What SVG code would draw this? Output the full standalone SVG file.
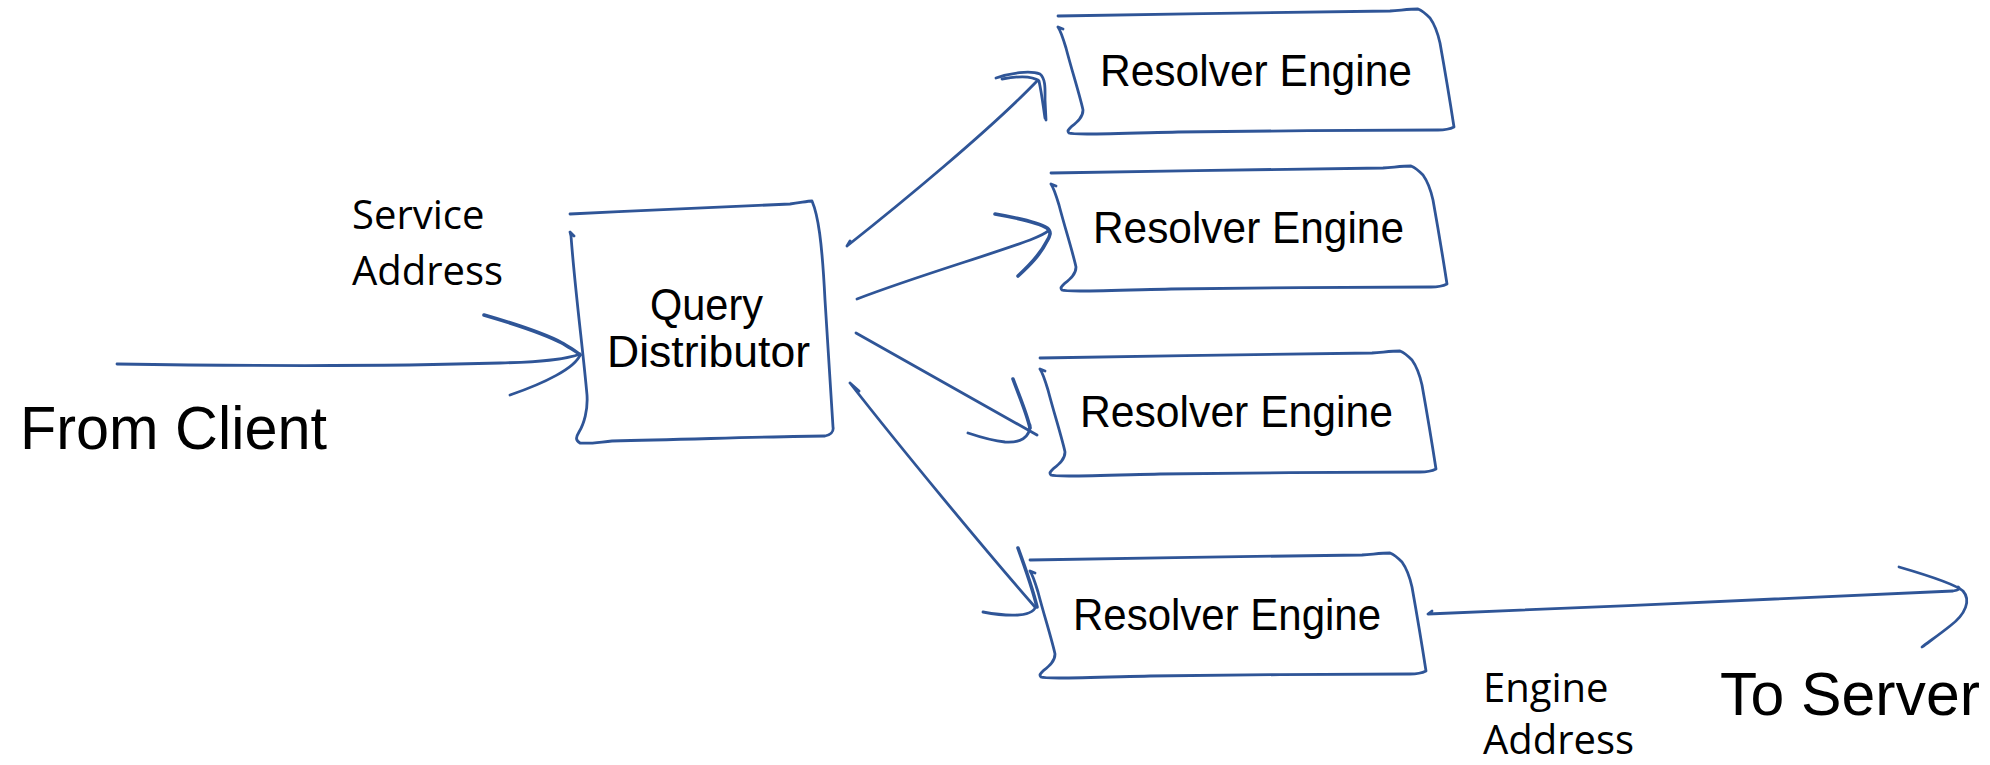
<svg xmlns="http://www.w3.org/2000/svg" width="1990" height="765" viewBox="0 0 1990 765">
  <style>
    .ink { fill: none; stroke: #2F5597; stroke-width: 2.8; stroke-linecap: round; stroke-linejoin: round; }
    .ink-bold { fill: none; stroke: #2F5597; stroke-width: 3.6; stroke-linecap: round; stroke-linejoin: round; }
    .hand { font-family: "Liberation Sans", Arial, sans-serif; fill: #000; }
    .note { font-family: "Open Sans", "Liberation Sans", sans-serif; font-size: 40px; fill: #000; }
  </style>
  <defs>
    <!-- sketched resolver box, origin at the left end of its top edge -->
    <path id="engine-box" class="ink" d="M0,0 C100,-2 250,-4 332,-5 C345,-6 352,-7 360,-7 C365,-5 369,-1 372,2 C377,9 380,18 382,27 C387,55 392,85 396,111 C392,113 387,114 380,114 C300,114 200,115 120,116 C80,117 50,118 29,118 C20,118 13,118 11,117 C9,115 10,114 13,111 C18,107 25,102 25,94 C22,80 14,55 8,32 C5,22 2,14 0,11 L5,13"/>
  </defs>
  <rect width="1990" height="765" fill="#fff"/>

  <!-- connectors -->
  <g id="connectors">
    <!-- client into distributor -->
    <path class="ink" d="M117,364 C250,366 400,366 500,363 C540,362 565,360 580,354"/>
    <path class="ink-bold" d="M484,315 C515,324 545,334 562,343 C572,349 579,353 580,355"/>
    <path class="ink" d="M580,355 C575,368 545,383 510,395"/>

    <!-- distributor to engine 1 -->
    <path class="ink" d="M847,246 C900,204 990,130 1038,80 M847,246 L850,241"/>
    <path class="ink" d="M996,78 C1010,73 1030,70 1040,74 C1046,79 1045,90 1045,100 L1046,120"/>
    <path class="ink" d="M1002,79 C1018,76 1033,76 1039,81 C1042,95 1043,105 1045,118"/>

    <!-- distributor to engine 2 -->
    <path class="ink" d="M857,299 C920,275 990,255 1030,240 C1040,236 1046,233 1048,231"/>
    <path class="ink-bold" d="M995,214 C1018,218 1038,222 1047,228 C1052,232 1050,236 1047,241 C1040,255 1030,265 1018,276"/>

    <!-- distributor to engine 3 -->
    <path class="ink" d="M856,333 L1037,435"/>
    <path class="ink-bold" d="M1013,379 C1020,398 1027,414 1030,428"/>
    <path class="ink" d="M1030,425 C1030,438 1020,443 1005,442 C995,441 980,437 968,433"/>

    <!-- distributor to engine 4 -->
    <path class="ink" d="M850,383 C900,447 985,550 1035,607 M850,383 L859,391"/>
    <path class="ink-bold" d="M1018,548 C1026,570 1033,590 1037,607"/>
    <path class="ink" d="M1036,605 C1035,617 1010,617 983,612"/>

    <!-- engine 4 out to server -->
    <path class="ink" d="M1432,611 L1428,614 C1600,607 1800,598 1953,591 C1958,590 1961,589 1958,587"/>
    <path class="ink" d="M1899,567 C1930,576 1955,584 1963,591 C1971,600 1966,614 1950,626 C1940,634 1930,641 1922,647"/>
  </g>

  <!-- query distributor -->
  <g id="query-distributor">
    <path class="ink" d="M570,214 C650,210 740,206 790,204 C800,203 807,201 812,201 C818,215 822,240 825,300 L833,427 C834,432 830,435 825,436 C790,436 700,439 612,441 C600,442 590,444 580,443 C575,440 576,437 579,432 C584,424 588,410 587,395 C583,350 575,290 571,236 L570,232 L574,236"/>
    <text class="hand" x="650" y="320" font-size="45" textLength="113" lengthAdjust="spacingAndGlyphs">Query</text>
    <text class="hand" x="607" y="367" font-size="45" textLength="203" lengthAdjust="spacingAndGlyphs">Distributor</text>
  </g>

  <!-- resolver engines -->
  <g id="resolver-engine-1" transform="translate(1058,16)">
    <use href="#engine-box"/>
    <text class="hand" x="42" y="70" font-size="45" textLength="312" lengthAdjust="spacingAndGlyphs">Resolver Engine</text>
  </g>
  <g id="resolver-engine-2" transform="translate(1051,173)">
    <use href="#engine-box"/>
    <text class="hand" x="42" y="70" font-size="45" textLength="311" lengthAdjust="spacingAndGlyphs">Resolver Engine</text>
  </g>
  <g id="resolver-engine-3" transform="translate(1040,358)">
    <use href="#engine-box"/>
    <text class="hand" x="40" y="69" font-size="45" textLength="313" lengthAdjust="spacingAndGlyphs">Resolver Engine</text>
  </g>
  <g id="resolver-engine-4" transform="translate(1030,560)">
    <use href="#engine-box"/>
    <text class="hand" x="43" y="70" font-size="45" textLength="308" lengthAdjust="spacingAndGlyphs">Resolver Engine</text>
  </g>

  <!-- endpoint labels -->
  <g id="from-client">
    <text class="hand" x="20" y="449" font-size="62" textLength="307" lengthAdjust="spacingAndGlyphs">From Client</text>
  </g>
  <g id="to-server">
    <text class="hand" x="1720" y="715" font-size="62" textLength="260" lengthAdjust="spacingAndGlyphs">To Server</text>
  </g>

  <!-- address notes -->
  <g id="service-address">
    <text class="note" x="352" y="229">Service</text>
    <text class="note" x="352" y="285">Address</text>
  </g>
  <g id="engine-address">
    <text class="note" x="1483" y="702" font-size="38">Engine</text>
    <text class="note" x="1483" y="754" font-size="38">Address</text>
  </g>
</svg>
